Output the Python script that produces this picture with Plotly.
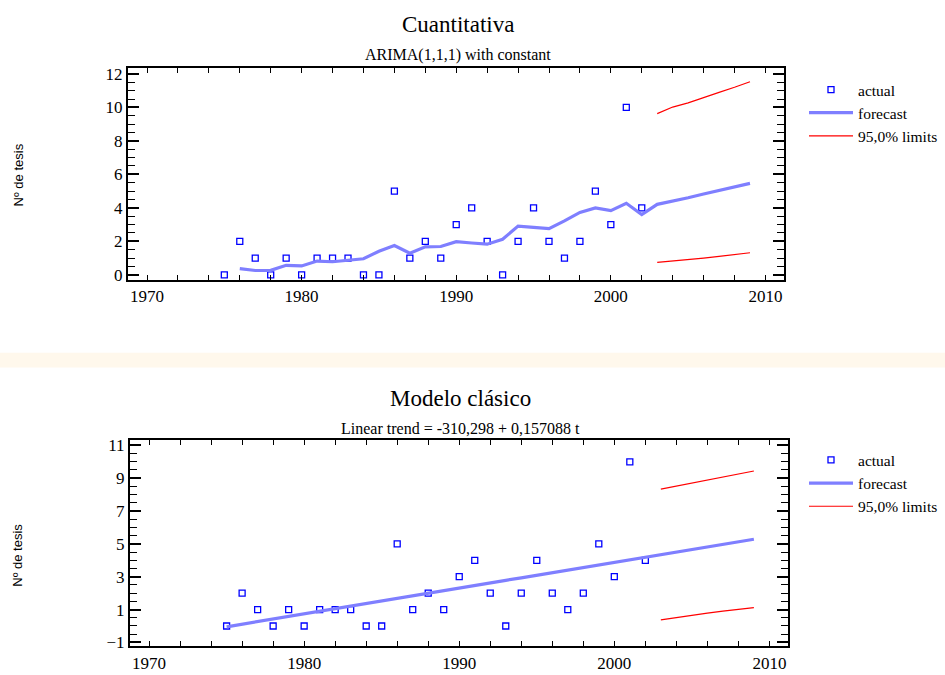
import plotly.graph_objects as go

# ---------------- data ----------------
years_actual = list(range(1975, 2003))
actual = [0, 2, 1, 0, 1, 0, 1, 1, 1, 0, 0, 5, 1, 2, 1, 3, 4, 2, 0, 2, 4, 2, 1, 2, 5, 3, 10, 4]

# ARIMA(1,1,1) forecast (top panel)
years_arima = list(range(1976, 2010))
arima_forecast = [0.37, 0.26, 0.27, 0.57, 0.53, 0.82, 0.78, 0.86, 0.96, 1.41, 1.75, 1.29,
                  1.67, 1.69, 1.98, 1.90, 1.83, 2.12, 2.91, 2.83, 2.76, 3.22, 3.73, 4.00,
                  3.83, 4.27, 3.60, 4.21, 4.40, 4.60, 4.83, 5.03, 5.24, 5.46]
years_limits = list(range(2003, 2010))
arima_upper = [9.63, 10.02, 10.27, 10.60, 10.90, 11.20, 11.53]
arima_lower = [0.74, 0.82, 0.89, 1.00, 1.10, 1.22, 1.32]

# Linear trend forecast (bottom panel)
years_trend = list(range(1975, 2010))
trend_forecast = [-0.05, 0.11, 0.27, 0.42, 0.58, 0.74, 0.89, 1.05, 1.21, 1.36, 1.52, 1.68,
                  1.84, 1.99, 2.15, 2.31, 2.46, 2.62, 2.78, 2.93, 3.09, 3.25, 3.40, 3.56,
                  3.72, 3.87, 4.03, 4.19, 4.34, 4.50, 4.66, 4.81, 4.97, 5.13, 5.28]
trend_upper = [8.33, 8.51, 8.69, 8.88, 9.06, 9.25, 9.44]
trend_lower = [0.37, 0.52, 0.66, 0.78, 0.90, 1.01, 1.12]

top_yticks = [0, 2, 4, 6, 8, 10, 12]
bottom_yticks = [-1, 1, 3, 5, 7, 9, 11]
xticks = [1970, 1980, 1990, 2000, 2010]

FONT = "Liberation Serif"
SANS = "Liberation Sans"
ACT_COLOR = "#0000ff"
FC_COLOR = "#7f7fff"
LIM_COLOR = "#ff0000"

fig = go.Figure()

def add_panel(xa, ya, legend, fc_years, fc_vals, up, lo):
    fig.add_trace(go.Scatter(x=years_actual, y=actual, mode="markers", name="actual",
                             xaxis=xa, yaxis=ya, legend=legend,
                             marker=dict(symbol="square-open", size=6, color=ACT_COLOR,
                                         line=dict(width=1.3, color=ACT_COLOR))))
    fig.add_trace(go.Scatter(x=fc_years, y=fc_vals, mode="lines", name="forecast",
                             xaxis=xa, yaxis=ya, legend=legend,
                             line=dict(color=FC_COLOR, width=3.2)))
    fig.add_trace(go.Scatter(x=years_limits, y=up, mode="lines", name="95,0% limits",
                             xaxis=xa, yaxis=ya, legend=legend,
                             line=dict(color=LIM_COLOR, width=1.2)))
    fig.add_trace(go.Scatter(x=years_limits, y=lo, mode="lines", name="95,0% limits",
                             xaxis=xa, yaxis=ya, legend=legend, showlegend=False,
                             line=dict(color=LIM_COLOR, width=1.2)))

add_panel("x", "y", "legend", years_arima, arima_forecast, arima_upper, arima_lower)
add_panel("x2", "y2", "legend2", years_trend, trend_forecast, trend_upper, trend_lower)

W, H = 945, 675

def xaxis_cfg(domain, anchor):
    return dict(domain=domain, anchor=anchor, range=[1968.77, 2011.2],
                tickvals=xticks, ticks="inside", ticklen=5, tickwidth=1, tickcolor="black",
                minor=dict(dtick=2, ticks="inside", ticklen=5, tickwidth=1, tickcolor="black",
                           showgrid=False),
                showline=True, linecolor="black", linewidth=2, mirror="allticks",
                showgrid=False, zeroline=False,
                tickfont=dict(family=FONT, size=17, color="black"))

def yaxis_cfg(domain, anchor, rng, tv):
    return dict(domain=domain, anchor=anchor, range=rng, tickvals=tv,
                ticks="inside", ticklen=11, tickwidth=2, tickcolor="black",
                minor=dict(dtick=0.5, tick0=0, ticks="inside", ticklen=7, tickwidth=1,
                           tickcolor="black", showgrid=False),
                showline=True, linecolor="black", linewidth=2, mirror="allticks",
                showgrid=False, zeroline=False,
                tickfont=dict(family=FONT, size=17, color="black"))

top_x = [128 / W, 784 / W]
top_y = [1 - 280 / H, 1 - 65 / H]
bot_x = [130 / W, 788 / W]
bot_y = [1 - 652 / H, 1 - 443 / H]

legend_common = dict(font=dict(family=FONT, size=15.5, color="black"), bgcolor="rgba(0,0,0,0)",
                     xanchor="left", yanchor="top", tracegroupgap=0, itemwidth=44)

def ann(text, x, y, size, family=FONT, angle=0):
    return dict(text=text, x=x / W, y=1 - y / H, xref="paper", yref="paper",
                xanchor="center", yanchor="middle", showarrow=False, textangle=angle,
                font=dict(family=family, size=size, color="black"))

fig.update_layout(
    width=W, height=H,
    margin=dict(l=0, r=0, t=0, b=0),
    paper_bgcolor="white", plot_bgcolor="white",
    font=dict(family=FONT, color="black"),
    xaxis=xaxis_cfg(top_x, "y"),
    yaxis=yaxis_cfg(top_y, "x", [-0.3, 12.35], top_yticks),
    xaxis2=xaxis_cfg(bot_x, "y2"),
    yaxis2=yaxis_cfg(bot_y, "x2", [-1.24, 11.3], bottom_yticks),
    legend=dict(x=804 / W, y=1 - 70 / H, **legend_common),
    legend2=dict(x=804 / W, y=1 - 446 / H, **legend_common),
    shapes=[dict(type="rect", xref="paper", yref="paper", x0=0, x1=1,
                 y0=1 - 369 / H, y1=1 - 354 / H, fillcolor="#fff8ec",
                 line=dict(width=0), layer="below")],
    annotations=[
        ann("Cuantitativa", 458, 21, 23),
        ann("ARIMA(1,1,1) with constant", 458, 52, 16),
        ann("Modelo clásico", 460, 400, 23),
        ann("Linear trend = -310,298 + 0,157088 t", 460, 431, 16),
        ann("Nº de tesis", 18, 174, 13, SANS, -90),
        ann("Nº de tesis", 18, 560, 13, SANS, -90),
    ],
)

fig.write_html("out.html", config={"displayModeBar": False},
               post_script="document.body.style.margin='0';document.body.style.overflow='hidden';")
